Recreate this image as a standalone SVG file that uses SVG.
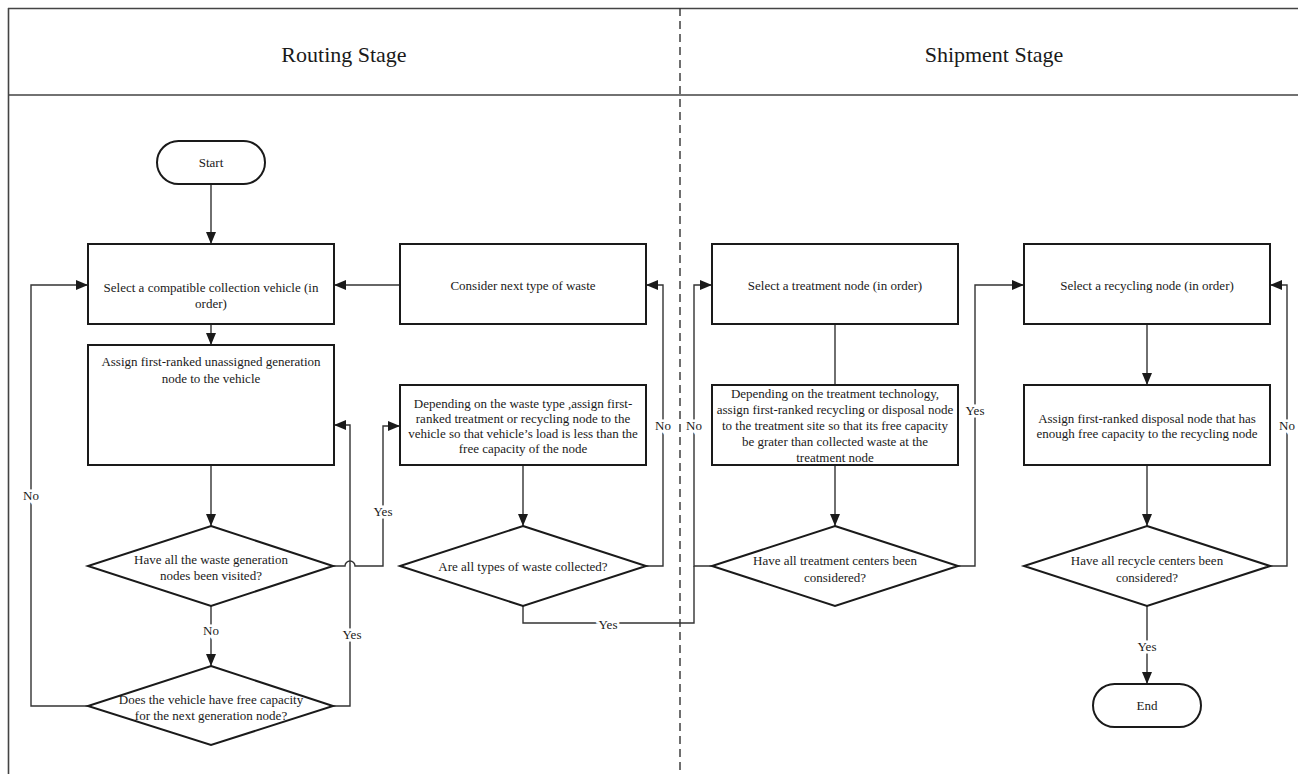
<svg xmlns="http://www.w3.org/2000/svg" width="1298" height="774" viewBox="0 0 1298 774">
  <style>
    text { font-family: "Liberation Serif", "Times New Roman", serif; fill: #1a1a1a; font-size: 13px; text-anchor: middle; dominant-baseline: central; }
    .hdr { font-size: 22px; }
    .box { fill: #fff; stroke: #1a1a1a; stroke-width: 2; }
    .frame { fill: none; stroke: #444; stroke-width: 1.6; }
    .lane { fill: none; stroke: #333; stroke-width: 1.4; stroke-dasharray: 8 5; }
    .conn path { fill: none; stroke: #333; stroke-width: 1.4; }
    .lbl { stroke: #fff; stroke-width: 5; paint-order: stroke; }
  </style>
  <defs>
    <marker id="arrow" markerUnits="userSpaceOnUse" markerWidth="12" markerHeight="12" viewBox="0 0 12 12" refX="12" refY="6" orient="auto">
      <path d="M0,1 L12,6 L0,11 Z" fill="#1a1a1a"/>
    </marker>
  </defs>

  <!-- swimlane frame -->
  <g id="frame">
    <path class="frame" d="M8,8.5 H1298 M8,95 H1298 M8.5,8 V774"/>
    <path class="lane" d="M680,8 V774"/>
    <text class="hdr" x="344" y="54">Routing Stage</text>
    <text class="hdr" x="994" y="54">Shipment Stage</text>
  </g>

  <!-- connectors -->
  <g id="connectors" class="conn">
    <path d="M211,184 V244" marker-end="url(#arrow)"/>
    <path d="M211,324 V345" marker-end="url(#arrow)"/>
    <path d="M211,465 V526" marker-end="url(#arrow)"/>
    <path d="M211,606 V666" marker-end="url(#arrow)"/>
    <path d="M88,706 H31 V285 H88" marker-end="url(#arrow)"/>
    <path d="M333,706 H350 V425 H334" marker-end="url(#arrow)"/>
    <path d="M333,566 H345 A5,5 0 0 1 355,566 H383 V426 H400" marker-end="url(#arrow)"/>
    <path d="M400,285 H334" marker-end="url(#arrow)"/>
    <path d="M523,465 V526" marker-end="url(#arrow)"/>
    <path d="M646,566 H663 V285 H646" marker-end="url(#arrow)"/>
    <path d="M523,606 V623 H694 V566"/>
    <path d="M712,566 H694 V285 H712" marker-end="url(#arrow)"/>
    <path d="M835,324 V385"/>
    <path d="M835,465 V526" marker-end="url(#arrow)"/>
    <path d="M958,566 H975 V285 H1024" marker-end="url(#arrow)"/>
    <path d="M1147,324 V385" marker-end="url(#arrow)"/>
    <path d="M1147,465 V526" marker-end="url(#arrow)"/>
    <path d="M1270,566 H1287 V285 H1270" marker-end="url(#arrow)"/>
    <path d="M1147,606 V684" marker-end="url(#arrow)"/>
  </g>

  <!-- connector labels -->
  <g id="labels">
    <text class="lbl" x="211" y="630">No</text>
    <text class="lbl" x="31" y="495">No</text>
    <text class="lbl" x="352" y="634">Yes</text>
    <text class="lbl" x="383" y="511">Yes</text>
    <text class="lbl" x="663" y="425">No</text>
    <text class="lbl" x="608" y="624">Yes</text>
    <text class="lbl" x="694" y="425">No</text>
    <text class="lbl" x="975" y="410">Yes</text>
    <text class="lbl" x="1287" y="425">No</text>
    <text class="lbl" x="1147" y="646">Yes</text>
  </g>

  <g id="start">
    <rect class="box" x="157" y="141" width="108" height="43" rx="21.5"/>
    <text x="211" y="162.5">Start</text>
  </g>

  <g id="select-vehicle">
    <rect class="box" x="88" y="244" width="246" height="80"/>
    <text x="211" y="287">Select a compatible collection vehicle (in</text>
    <text x="211" y="303">order)</text>
  </g>

  <g id="assign-generation">
    <rect class="box" x="88" y="345" width="246" height="120"/>
    <text x="211" y="361">Assign first-ranked unassigned generation</text>
    <text x="211" y="378">node to the vehicle</text>
  </g>

  <g id="all-visited">
    <path class="box" d="M211,526 L333,566 L211,606 L88,566 Z"/>
    <text x="211" y="559">Have all the waste generation</text>
    <text x="211" y="575">nodes been visited?</text>
  </g>

  <g id="free-capacity">
    <path class="box" d="M211,666 L333,706 L211,745 L88,706 Z"/>
    <text x="211" y="699">Does the vehicle have free capacity</text>
    <text x="211" y="715">for the next generation node?</text>
  </g>

  <g id="next-waste">
    <rect class="box" x="400" y="244" width="246" height="80"/>
    <text x="523" y="285">Consider next type of waste</text>
  </g>

  <g id="assign-treatment-recycling">
    <rect class="box" x="400" y="385" width="246" height="80"/>
    <text x="523" y="403">Depending on the waste type ,assign first-</text>
    <text x="523" y="418">ranked treatment or recycling node to the</text>
    <text x="523" y="433">vehicle so that vehicle’s load is less than the</text>
    <text x="523" y="448">free capacity of the node</text>
  </g>

  <g id="all-types">
    <path class="box" d="M523,526 L646,566 L523,606 L400,566 Z"/>
    <text x="523" y="566">Are all types of waste collected?</text>
  </g>

  <g id="select-treatment">
    <rect class="box" x="712" y="244" width="246" height="80"/>
    <text x="835" y="285">Select a treatment node (in order)</text>
  </g>

  <g id="assign-recycling-disposal">
    <rect class="box" x="712" y="385" width="246" height="80"/>
    <text x="835" y="393">Depending on the treatment technology,</text>
    <text x="835" y="409">assign first-ranked recycling or disposal node</text>
    <text x="835" y="425">to the treatment site so that its free capacity</text>
    <text x="835" y="441">be grater than collected waste at the</text>
    <text x="835" y="457">treatment node</text>
  </g>

  <g id="all-treatment">
    <path class="box" d="M835,526 L958,566 L835,606 L712,566 Z"/>
    <text x="835" y="560">Have all treatment centers been</text>
    <text x="835" y="577">considered?</text>
  </g>

  <g id="select-recycling">
    <rect class="box" x="1024" y="244" width="246" height="80"/>
    <text x="1147" y="285">Select a recycling node (in order)</text>
  </g>

  <g id="assign-disposal">
    <rect class="box" x="1024" y="385" width="246" height="80"/>
    <text x="1147" y="418">Assign first-ranked disposal node that has</text>
    <text x="1147" y="433">enough free capacity to the recycling node</text>
  </g>

  <g id="all-recycle">
    <path class="box" d="M1147,526 L1270,566 L1147,606 L1024,566 Z"/>
    <text x="1147" y="560">Have all recycle centers been</text>
    <text x="1147" y="577">considered?</text>
  </g>

  <g id="end">
    <rect class="box" x="1093" y="684" width="108" height="43" rx="21.5"/>
    <text x="1147" y="705.5">End</text>
  </g>
</svg>
